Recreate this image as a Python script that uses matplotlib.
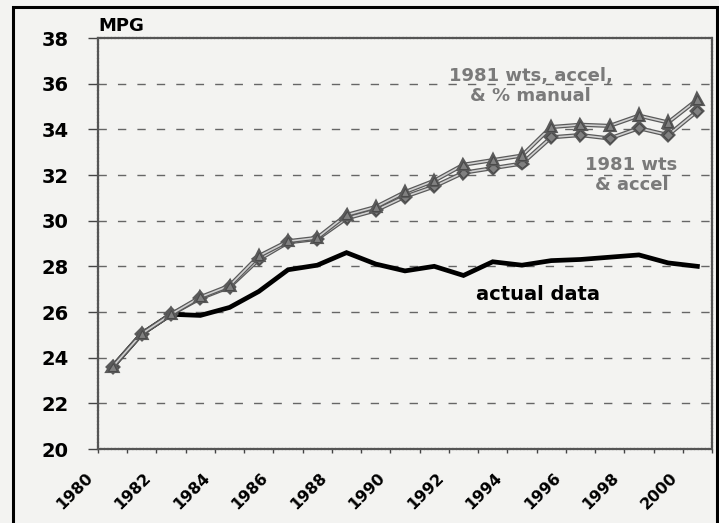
import matplotlib
matplotlib.use("Agg")
import matplotlib.pyplot as plt
import matplotlib.patheffects as pe
import matplotlib.transforms as mtransforms
from matplotlib.patches import Rectangle

# model years and fuel economy (MPG)
years = list(range(1981, 2002))
actual = [23.6, 25.05, 25.9, 25.85, 26.2, 26.9, 27.85, 28.05, 28.6, 28.1, 27.8,
          28.0, 27.6, 28.2, 28.05, 28.25, 28.3, 28.4, 28.5, 28.15, 28.0]
wts_accel = [23.6, 25.05, 25.9, 26.6, 27.1, 28.3, 29.05, 29.2, 30.1, 30.45, 31.05,
             31.5, 32.1, 32.3, 32.5, 33.65, 33.75, 33.6, 34.05, 33.75, 34.8]
wts_accel_manual = [23.6, 25.05, 25.9, 26.65, 27.15, 28.45, 29.1, 29.25, 30.25, 30.6, 31.25,
                    31.75, 32.45, 32.65, 32.85, 34.1, 34.2, 34.15, 34.6, 34.3, 35.3]
yticks = list(range(20, 40, 2))
xtick_years = list(range(1980, 2002))

bg = "#f3f3f1"
plt.rcParams["font.family"] = "DejaVu Sans"
plt.rcParams["font.weight"] = "bold"

fig = plt.figure(figsize=(7.19, 5.23), dpi=100, facecolor=bg)
ax = fig.add_axes([98 / 719, 1 - 449 / 523, (712 - 98) / 719, (449 - 38) / 523])
ax.set_facecolor(bg)

# outer frame of the chart
fig.patches.append(Rectangle((13 / 719, -0.05), (717 - 13) / 719, 1.05 - 7 / 523,
                             transform=fig.transFigure, fill=False,
                             edgecolor="black", linewidth=2.2, zorder=0))

# Excel-style category axis: points sit in the middle of each year slot
xs = [y - 0.5 for y in years]

ax.plot(xs, actual, color="black", linewidth=3.4, solid_joinstyle="miter", zorder=3)

stroke = [pe.withStroke(linewidth=3.0, foreground="#5a5a5a")]
ax.plot(xs, wts_accel, color="#d0d0d0", linewidth=1.2, path_effects=stroke,
        marker="D", markersize=5, markerfacecolor="#808080",
        markeredgecolor="#4a4a4a", markeredgewidth=0.8, zorder=4)
ax.plot(xs, wts_accel_manual, color="#d0d0d0", linewidth=1.2, path_effects=stroke,
        marker="^", markersize=6, markerfacecolor="#808080",
        markeredgecolor="#4a4a4a", markeredgewidth=0.8, zorder=4)

ax.set_xlim(1980, 2001)
ax.set_ylim(20, 38)
ax.set_yticks(yticks)
ax.set_yticklabels([str(v) for v in yticks], fontsize=14, fontweight="bold")
ax.set_xticks(xtick_years)
ax.tick_params(axis="y", direction="out", length=7, width=1, pad=14, color="#444444")
ax.tick_params(axis="x", direction="out", length=3, width=1, pad=6, color="#444444")
ax.set_xticklabels([str(y) if y % 2 == 0 else "" for y in xtick_years],
                   rotation=45, ha="right", rotation_mode="anchor",
                   fontsize=11.5, fontweight="bold")
# nudge the slanted year labels down-left, like the original
shift = mtransforms.ScaledTranslation(-13 / 100, -9 / 100, fig.dpi_scale_trans)
for lab in ax.get_xticklabels():
    lab.set_transform(lab.get_transform() + shift)

for v in yticks[1:-1]:
    ax.axhline(v, color="#666666", linewidth=1, linestyle=(0, (6, 8)), zorder=1)

for s in ax.spines.values():
    s.set_color("#555555")
    s.set_linewidth(1.6)
    s.set_linestyle((0, (1, 0.6)))

ax.text(0.0, 1.008, "MPG", transform=ax.transAxes, ha="left", va="bottom",
        fontsize=13, fontweight="bold")

ax.text(1994.8, 35.9, "1981 wts, accel,\n& % manual", ha="center", va="center",
        fontsize=13, fontweight="bold", color="#7a7a7a", linespacing=1.15)
ax.text(1998.25, 32.0, "1981 wts\n& accel", ha="center", va="center",
        fontsize=13, fontweight="bold", color="#7a7a7a", linespacing=1.15)
ax.text(1995.05, 26.75, "actual data", ha="center", va="center",
        fontsize=14, fontweight="bold", color="black")

fig.savefig("out.png", dpi=100, facecolor=bg)
